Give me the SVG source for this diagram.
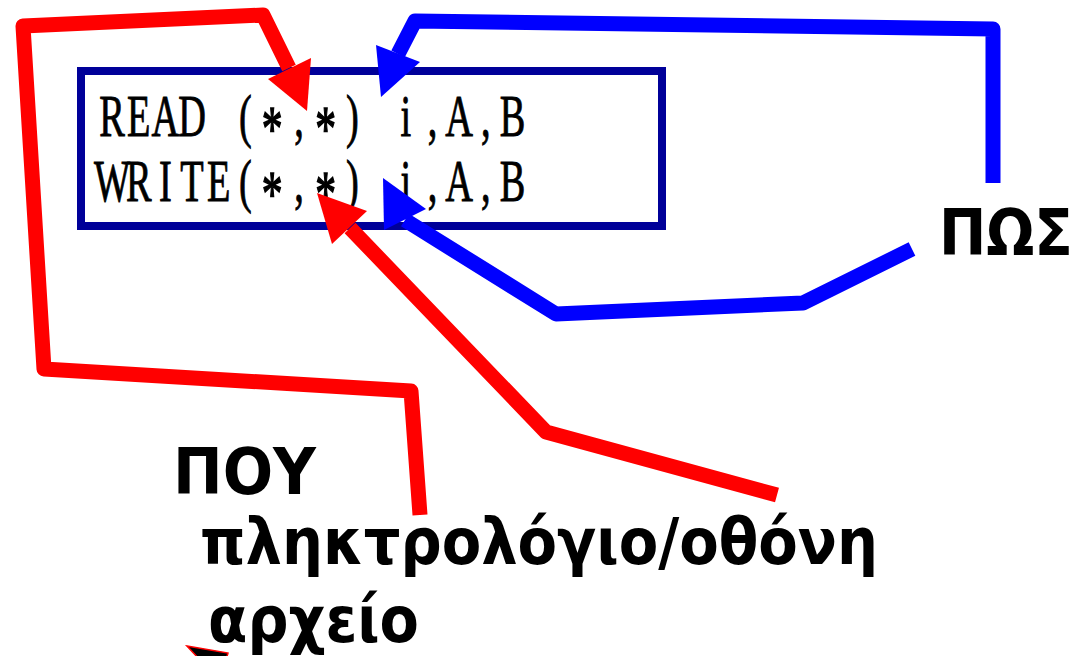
<svg xmlns="http://www.w3.org/2000/svg" width="1079" height="656" viewBox="0 0 1079 656">
  <style>
    .code { font-family: "Liberation Serif", "DejaVu Serif", serif; font-size: 59px; fill: #000; stroke: #000; stroke-width: 0.9; text-anchor: middle; }
    .ast { font-size: 64px; stroke-width: 1.6; }
    .label { font-family: "DejaVu Sans", "Noto Sans", sans-serif; font-size: 64px; font-weight: bold; fill: #000; }
    .red { fill: none; stroke: #FF0000; stroke-width: 15; stroke-linejoin: round; stroke-linecap: butt; }
    .blue { fill: none; stroke: #0000FF; stroke-width: 15; stroke-linejoin: round; stroke-linecap: butt; }
    .redhead { fill: #FF0000; stroke: none; }
    .bluehead { fill: #0000FF; stroke: none; }
    .box { fill: #FFFFFF; stroke: #000099; stroke-width: 8; }
  </style>
  <rect x="0" y="0" width="1079" height="656" fill="#FFFFFF"/>

  <g id="code-box">
    <rect class="box" x="81" y="71" width="581" height="155"/>
    <text class="code" transform="scale(0.65 1)" x="172.3 213.4 254.5 295.5 336.6 377.7 418.8 459.9 500.9 542.0 583.1 624.2 665.3 706.4 747.4 788.5" y="136">READ (<tspan class="ast" dy="14">*</tspan><tspan dy="-14">,</tspan><tspan class="ast" dy="14">*</tspan><tspan dy="-14">)</tspan> i,A,B</text>
    <text class="code" transform="scale(0.65 1)" x="172.3 213.4 254.5 295.5 336.6 377.7 418.8 459.9 500.9 542.0 583.1 624.2 665.3 706.4 747.4 788.5" y="201">WRITE(<tspan class="ast" dy="14">*</tspan><tspan dy="-14">,</tspan><tspan class="ast" dy="14">*</tspan><tspan dy="-14">)</tspan> i,A,B</text>
  </g>

  <g id="label-pos">
    <text class="label" transform="translate(939 255) scale(1 1.143)" x="0" y="0" style="font-size:56px" textLength="134" lengthAdjust="spacingAndGlyphs">ΠΩΣ</text>
  </g>

  <g id="label-pou">
    <text class="label" x="173" y="494" textLength="143" lengthAdjust="spacingAndGlyphs">ΠΟΥ</text>
  </g>

  <g id="label-keyboard">
    <text class="label" x="200" y="564" textLength="678" lengthAdjust="spacingAndGlyphs">πληκτρολόγιο/οθόνη</text>
  </g>

  <g id="label-file">
    <text class="label" x="208" y="642" textLength="211" lengthAdjust="spacingAndGlyphs">αρχείο</text>
  </g>

  <g id="connectors">
    <path class="red" d="M420,515 L411,391 L44,369 L23,26 L263,15 L289,68"/>
    <polygon class="redhead" points="268,79 311,58 307,111"/>
    <path class="red" d="M777,495 L546,432 L350,228"/>
    <polygon class="redhead" points="317,193 367,211 332,244"/>
    <path class="blue" d="M993,183 L993,29 L415,21 L398,54"/>
    <polygon class="bluehead" points="376,45 420,62 381,97"/>
    <path class="blue" d="M912,249 L803,303 L556,314 L405,220"/>
    <polygon class="bluehead" points="383,178 426,209 384,230"/>
    <polygon points="187,646 228,653 226,660 200,660" fill="#000000" stroke="#FF0000" stroke-width="1.5"/>
  </g>
</svg>
